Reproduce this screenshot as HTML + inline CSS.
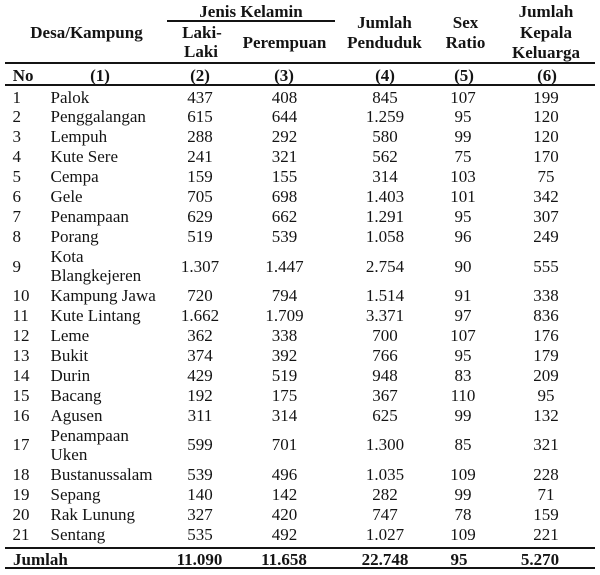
<!DOCTYPE html>
<html><head><meta charset="utf-8">
<style>
html,body{margin:0;padding:0;background:#fff;}
body{width:600px;height:575px;position:relative;overflow:hidden;font-family:"Liberation Serif","Times New Roman",serif;font-size:17px;color:#141414;}
.t{position:absolute;line-height:20px;white-space:nowrap;}
.c{width:140px;margin-left:-70px;text-align:center;}
.b{font-weight:bold;}
.ln{position:absolute;background:#141414;height:2px;}
</style></head><body>
<div class="ln" style="left:5px;top:62px;width:590px"></div>
<div class="ln" style="left:5px;top:84px;width:590px"></div>
<div class="ln" style="left:5px;top:547px;width:590px"></div>
<div class="ln" style="left:5px;top:567px;width:590px"></div>
<div class="ln" style="left:167px;top:20px;width:168px"></div>

<div class="t c b" style="left:86.5px;top:23px">Desa/Kampung</div>
<div class="t c b" style="left:251px;top:2px">Jenis Kelamin</div>
<div class="t c b" style="left:202px;top:23px">Laki-</div>
<div class="t c b" style="left:201px;top:42px">Laki</div>
<div class="t c b" style="left:284.5px;top:33px">Perempuan</div>
<div class="t c b" style="left:384.5px;top:13px">Jumlah</div>
<div class="t c b" style="left:384.5px;top:33px">Penduduk</div>
<div class="t c b" style="left:465.5px;top:13px">Sex</div>
<div class="t c b" style="left:465.5px;top:33px">Ratio</div>
<div class="t c b" style="left:546px;top:2px">Jumlah</div>
<div class="t c b" style="left:546px;top:23px">Kepala</div>
<div class="t c b" style="left:546px;top:43px">Keluarga</div>

<div class="t b" style="left:12.7px;top:66px">No</div>
<div class="t c b" style="left:100px;top:66px">(1)</div>
<div class="t c b" style="left:200px;top:66px">(2)</div>
<div class="t c b" style="left:284px;top:66px">(3)</div>
<div class="t c b" style="left:385px;top:66px">(4)</div>
<div class="t c b" style="left:464px;top:66px">(5)</div>
<div class="t c b" style="left:547px;top:66px">(6)</div>

<!-- row 1 -->
<div class="t" style="left:12.5px;top:87.5px">1</div><div class="t" style="left:50.5px;top:87.5px">Palok</div>
<div class="t c" style="left:200px;top:87.5px">437</div><div class="t c" style="left:284.5px;top:87.5px">408</div><div class="t c" style="left:385px;top:87.5px">845</div><div class="t c" style="left:463px;top:87.5px">107</div><div class="t c" style="left:546px;top:87.5px">199</div>
<!-- row 2 -->
<div class="t" style="left:12.5px;top:107.4px">2</div><div class="t" style="left:50.5px;top:107.4px">Penggalangan</div>
<div class="t c" style="left:200px;top:107.4px">615</div><div class="t c" style="left:284.5px;top:107.4px">644</div><div class="t c" style="left:385px;top:107.4px">1.259</div><div class="t c" style="left:463px;top:107.4px">95</div><div class="t c" style="left:546px;top:107.4px">120</div>
<!-- row 3 -->
<div class="t" style="left:12.5px;top:127.3px">3</div><div class="t" style="left:50.5px;top:127.3px">Lempuh</div>
<div class="t c" style="left:200px;top:127.3px">288</div><div class="t c" style="left:284.5px;top:127.3px">292</div><div class="t c" style="left:385px;top:127.3px">580</div><div class="t c" style="left:463px;top:127.3px">99</div><div class="t c" style="left:546px;top:127.3px">120</div>
<!-- row 4 -->
<div class="t" style="left:12.5px;top:147.1px">4</div><div class="t" style="left:50.5px;top:147.1px">Kute Sere</div>
<div class="t c" style="left:200px;top:147.1px">241</div><div class="t c" style="left:284.5px;top:147.1px">321</div><div class="t c" style="left:385px;top:147.1px">562</div><div class="t c" style="left:463px;top:147.1px">75</div><div class="t c" style="left:546px;top:147.1px">170</div>
<!-- row 5 -->
<div class="t" style="left:12.5px;top:167px">5</div><div class="t" style="left:50.5px;top:167px">Cempa</div>
<div class="t c" style="left:200px;top:167px">159</div><div class="t c" style="left:284.5px;top:167px">155</div><div class="t c" style="left:385px;top:167px">314</div><div class="t c" style="left:463px;top:167px">103</div><div class="t c" style="left:546px;top:167px">75</div>
<!-- row 6 -->
<div class="t" style="left:12.5px;top:186.9px">6</div><div class="t" style="left:50.5px;top:186.9px">Gele</div>
<div class="t c" style="left:200px;top:186.9px">705</div><div class="t c" style="left:284.5px;top:186.9px">698</div><div class="t c" style="left:385px;top:186.9px">1.403</div><div class="t c" style="left:463px;top:186.9px">101</div><div class="t c" style="left:546px;top:186.9px">342</div>
<!-- row 7 -->
<div class="t" style="left:12.5px;top:206.8px">7</div><div class="t" style="left:50.5px;top:206.8px">Penampaan</div>
<div class="t c" style="left:200px;top:206.8px">629</div><div class="t c" style="left:284.5px;top:206.8px">662</div><div class="t c" style="left:385px;top:206.8px">1.291</div><div class="t c" style="left:463px;top:206.8px">95</div><div class="t c" style="left:546px;top:206.8px">307</div>
<!-- row 8 -->
<div class="t" style="left:12.5px;top:226.7px">8</div><div class="t" style="left:50.5px;top:226.7px">Porang</div>
<div class="t c" style="left:200px;top:226.7px">519</div><div class="t c" style="left:284.5px;top:226.7px">539</div><div class="t c" style="left:385px;top:226.7px">1.058</div><div class="t c" style="left:463px;top:226.7px">96</div><div class="t c" style="left:546px;top:226.7px">249</div>
<!-- row 9 -->
<div class="t" style="left:50.5px;top:246.5px">Kota</div><div class="t" style="left:50.5px;top:266.4px">Blangkejeren</div>
<div class="t" style="left:12.5px;top:256.5px">9</div>
<div class="t c" style="left:200px;top:256.5px">1.307</div><div class="t c" style="left:284.5px;top:256.5px">1.447</div><div class="t c" style="left:385px;top:256.5px">2.754</div><div class="t c" style="left:463px;top:256.5px">90</div><div class="t c" style="left:546px;top:256.5px">555</div>
<!-- row 10 -->
<div class="t" style="left:12.5px;top:286.3px">10</div><div class="t" style="left:50.5px;top:286.3px">Kampung Jawa</div>
<div class="t c" style="left:200px;top:286.3px">720</div><div class="t c" style="left:284.5px;top:286.3px">794</div><div class="t c" style="left:385px;top:286.3px">1.514</div><div class="t c" style="left:463px;top:286.3px">91</div><div class="t c" style="left:546px;top:286.3px">338</div>
<!-- row 11 -->
<div class="t" style="left:12.5px;top:306.2px">11</div><div class="t" style="left:50.5px;top:306.2px">Kute Lintang</div>
<div class="t c" style="left:200px;top:306.2px">1.662</div><div class="t c" style="left:284.5px;top:306.2px">1.709</div><div class="t c" style="left:385px;top:306.2px">3.371</div><div class="t c" style="left:463px;top:306.2px">97</div><div class="t c" style="left:546px;top:306.2px">836</div>
<!-- row 12 -->
<div class="t" style="left:12.5px;top:326.1px">12</div><div class="t" style="left:50.5px;top:326.1px">Leme</div>
<div class="t c" style="left:200px;top:326.1px">362</div><div class="t c" style="left:284.5px;top:326.1px">338</div><div class="t c" style="left:385px;top:326.1px">700</div><div class="t c" style="left:463px;top:326.1px">107</div><div class="t c" style="left:546px;top:326.1px">176</div>
<!-- row 13 -->
<div class="t" style="left:12.5px;top:345.9px">13</div><div class="t" style="left:50.5px;top:345.9px">Bukit</div>
<div class="t c" style="left:200px;top:345.9px">374</div><div class="t c" style="left:284.5px;top:345.9px">392</div><div class="t c" style="left:385px;top:345.9px">766</div><div class="t c" style="left:463px;top:345.9px">95</div><div class="t c" style="left:546px;top:345.9px">179</div>
<!-- row 14 -->
<div class="t" style="left:12.5px;top:365.8px">14</div><div class="t" style="left:50.5px;top:365.8px">Durin</div>
<div class="t c" style="left:200px;top:365.8px">429</div><div class="t c" style="left:284.5px;top:365.8px">519</div><div class="t c" style="left:385px;top:365.8px">948</div><div class="t c" style="left:463px;top:365.8px">83</div><div class="t c" style="left:546px;top:365.8px">209</div>
<!-- row 15 -->
<div class="t" style="left:12.5px;top:385.7px">15</div><div class="t" style="left:50.5px;top:385.7px">Bacang</div>
<div class="t c" style="left:200px;top:385.7px">192</div><div class="t c" style="left:284.5px;top:385.7px">175</div><div class="t c" style="left:385px;top:385.7px">367</div><div class="t c" style="left:463px;top:385.7px">110</div><div class="t c" style="left:546px;top:385.7px">95</div>
<!-- row 16 -->
<div class="t" style="left:12.5px;top:405.6px">16</div><div class="t" style="left:50.5px;top:405.6px">Agusen</div>
<div class="t c" style="left:200px;top:405.6px">311</div><div class="t c" style="left:284.5px;top:405.6px">314</div><div class="t c" style="left:385px;top:405.6px">625</div><div class="t c" style="left:463px;top:405.6px">99</div><div class="t c" style="left:546px;top:405.6px">132</div>
<!-- row 17 -->
<div class="t" style="left:50.5px;top:425.5px">Penampaan</div><div class="t" style="left:50.5px;top:445.3px">Uken</div>
<div class="t" style="left:12.5px;top:435.4px">17</div>
<div class="t c" style="left:200px;top:435.4px">599</div><div class="t c" style="left:284.5px;top:435.4px">701</div><div class="t c" style="left:385px;top:435.4px">1.300</div><div class="t c" style="left:463px;top:435.4px">85</div><div class="t c" style="left:546px;top:435.4px">321</div>
<!-- row 18 -->
<div class="t" style="left:12.5px;top:465.2px">18</div><div class="t" style="left:50.5px;top:465.2px">Bustanussalam</div>
<div class="t c" style="left:200px;top:465.2px">539</div><div class="t c" style="left:284.5px;top:465.2px">496</div><div class="t c" style="left:385px;top:465.2px">1.035</div><div class="t c" style="left:463px;top:465.2px">109</div><div class="t c" style="left:546px;top:465.2px">228</div>
<!-- row 19 -->
<div class="t" style="left:12.5px;top:485.1px">19</div><div class="t" style="left:50.5px;top:485.1px">Sepang</div>
<div class="t c" style="left:200px;top:485.1px">140</div><div class="t c" style="left:284.5px;top:485.1px">142</div><div class="t c" style="left:385px;top:485.1px">282</div><div class="t c" style="left:463px;top:485.1px">99</div><div class="t c" style="left:546px;top:485.1px">71</div>
<!-- row 20 -->
<div class="t" style="left:12.5px;top:505px">20</div><div class="t" style="left:50.5px;top:505px">Rak Lunung</div>
<div class="t c" style="left:200px;top:505px">327</div><div class="t c" style="left:284.5px;top:505px">420</div><div class="t c" style="left:385px;top:505px">747</div><div class="t c" style="left:463px;top:505px">78</div><div class="t c" style="left:546px;top:505px">159</div>
<!-- row 21 -->
<div class="t" style="left:12.5px;top:524.9px">21</div><div class="t" style="left:50.5px;top:524.9px">Sentang</div>
<div class="t c" style="left:200px;top:524.9px">535</div><div class="t c" style="left:284.5px;top:524.9px">492</div><div class="t c" style="left:385px;top:524.9px">1.027</div><div class="t c" style="left:463px;top:524.9px">109</div><div class="t c" style="left:546px;top:524.9px">221</div>

<!-- total -->
<div class="t b" style="left:13px;top:550px">Jumlah</div>
<div class="t c b" style="left:199.5px;top:550px">11.090</div><div class="t c b" style="left:284px;top:550px">11.658</div><div class="t c b" style="left:385px;top:550px">22.748</div><div class="t c b" style="left:459px;top:550px">95</div><div class="t c b" style="left:540px;top:550px">5.270</div>
</body></html>
